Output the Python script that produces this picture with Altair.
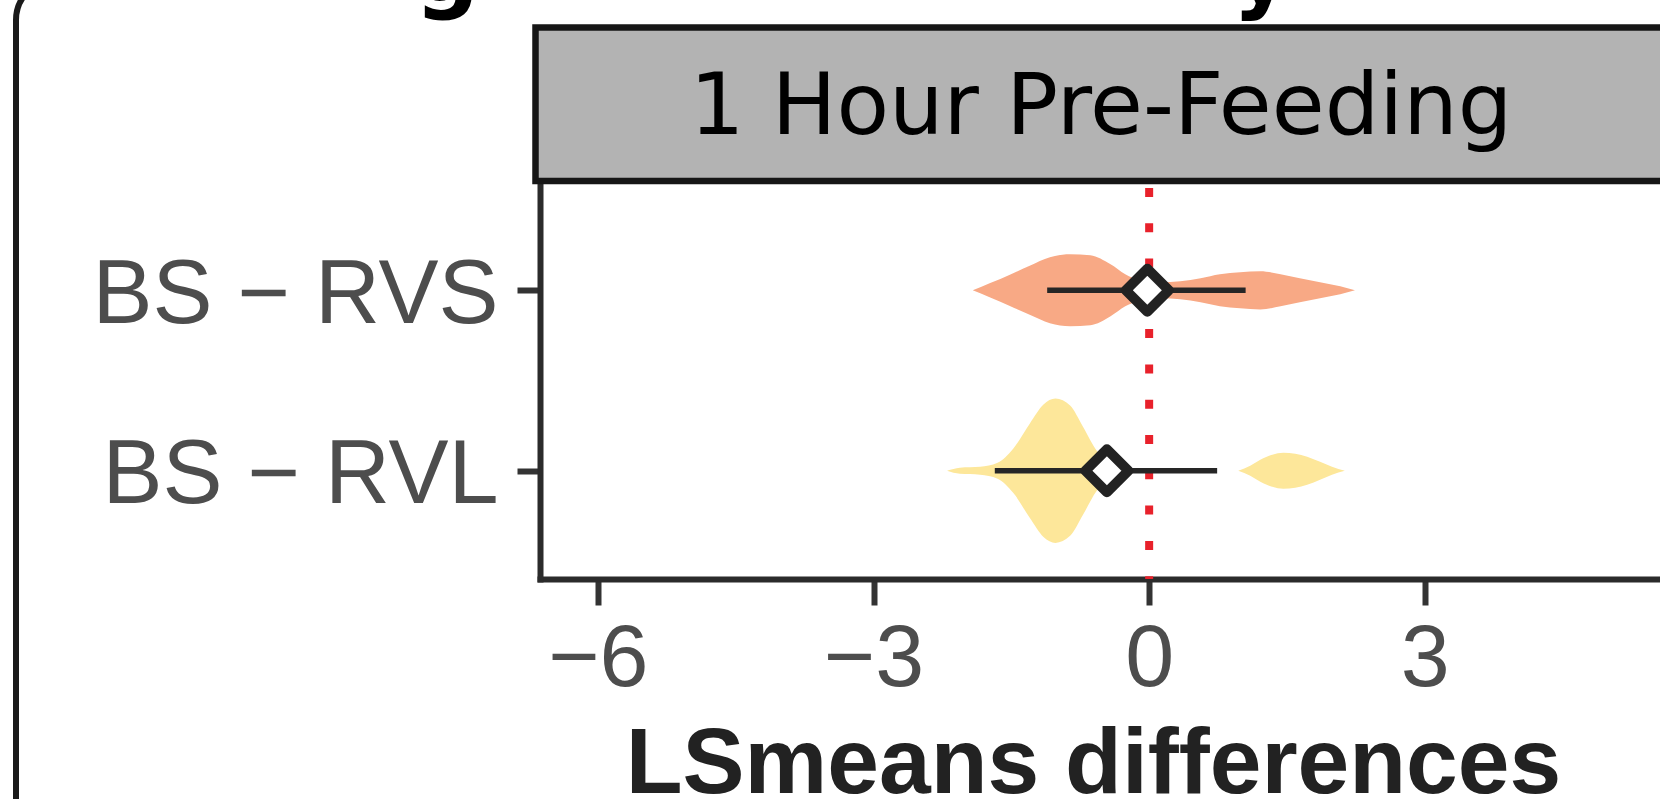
import altair as alt
import pandas as pd

# ---- data ----
comparisons = ["BS − RVS", "BS − RVL"]
comp_pos = [2, 1]
estimates = [-0.02, -0.46]
ci_low = [-1.11, -1.68]
ci_high = [1.05, 0.74]
violin_colors = ["#F8A985", "#FDE79A"]
x_ticks = [-6, -3, 0, 3]
strip_label = "1 Hour Pre-Feeding"
x_title = "LSmeans differences"

# violin outlines: value and half-width (in category units), per lobe
rvs_x = [-1.92, -1.73, -1.51, -1.30, -1.08, -0.86, -0.64, -0.42, -0.26, -0.10,
         0.12, 0.34, 0.56, 0.77, 0.99, 1.21, 1.43, 1.64, 1.86, 2.08, 2.24]
rvs_w = [0.0, 0.040, 0.088, 0.136, 0.183, 0.200, 0.194, 0.144, 0.089, 0.056,
         0.044, 0.050, 0.067, 0.089, 0.100, 0.106, 0.089, 0.067, 0.044, 0.022, 0.0]
rvl_a_x = [-2.20, -2.06, -1.84, -1.65, -1.48, -1.30, -1.15, -1.02, -0.86, -0.72,
           -0.57, -0.42, -0.34]
rvl_a_w = [0.0, 0.017, 0.022, 0.044, 0.122, 0.261, 0.367, 0.400, 0.361, 0.244,
           0.111, 0.044, 0.0]
rvl_b_x = [0.97, 1.10, 1.21, 1.34, 1.46, 1.59, 1.72, 1.86, 1.99, 2.13]
rvl_b_w = [0.0, 0.028, 0.061, 0.089, 0.100, 0.094, 0.078, 0.050, 0.022, 0.0]

rows = []
for comp, pos, part, xs_, ws_ in [
    (comparisons[0], comp_pos[0], "rvs", rvs_x, rvs_w),
    (comparisons[1], comp_pos[1], "rvl_a", rvl_a_x, rvl_a_w),
    (comparisons[1], comp_pos[1], "rvl_b", rvl_b_x, rvl_b_w),
]:
    for xv, wv in zip(xs_, ws_):
        rows.append({"comparison": comp, "part": part, "x": xv,
                     "lo": pos - wv, "hi": pos + wv})
violin_df = pd.DataFrame(rows)

est_df = pd.DataFrame({"comparison": comparisons, "pos": comp_pos,
                       "x": estimates, "lo": ci_low, "hi": ci_high})
zero_df = pd.DataFrame({"x": [0]})

# ---- scales / axes ----
xs = alt.Scale(domain=[-6.63, 5.56], nice=False, zero=False)
ys = alt.Scale(domain=[0.4, 2.6], nice=False, zero=False)

label_expr = " : ".join(
    [f"datum.value == {p} ? '{c}'" for c, p in zip(comparisons, comp_pos)] + ["''"]
)

xaxis = alt.Axis(values=x_ticks, grid=False, labelFont="Liberation Sans",
                 labelFontSize=88, labelColor="#4d4d4d", labelPadding=10,
                 labelOverlap=False, labelFlush=False, labelLimit=1000,
                 tickSize=26, tickWidth=6, tickColor="#333333",
                 domainWidth=6, domainColor="#2b2b2b", domainCap="square",
                 title=x_title, titleFont="Liberation Sans", titleFontWeight="bold",
                 titleFontSize=93, titleColor="#222222", titleBaseline="alphabetic",
                 titleY=213, titleX=553, titleAlign="center", titleLimit=2000)
yaxis = alt.Axis(values=comp_pos, labelExpr=label_expr, grid=False,
                 labelFont="Liberation Sans", labelFontSize=90, labelColor="#4d4d4d",
                 labelPadding=19, labelOffset=5, labelOverlap=False, labelFlush=False,
                 labelLimit=1000,
                 tickSize=23, tickWidth=6, tickColor="#333333",
                 domainWidth=6, domainColor="#2b2b2b", domainCap="square", title=None)

color = alt.Color("comparison:N", scale=alt.Scale(domain=comparisons, range=violin_colors),
                  legend=None)

violins = alt.Chart(violin_df).mark_area(orient="vertical", interpolate="monotone",
                                         opacity=1).encode(
    x=alt.X("x:Q", scale=xs, axis=xaxis),
    y=alt.Y("lo:Q", scale=ys, axis=yaxis),
    y2="hi:Q",
    color=color,
    detail="part:N",
)

zero_rule = alt.Chart(zero_df).mark_rule(color="#e8212b", strokeWidth=8,
                                         strokeDash=[9, 26.3], strokeDashOffset=29.4,
                                         strokeCap="butt").encode(
    x=alt.X("x:Q", scale=xs, axis=xaxis),
    y=alt.Y(datum=2.6, scale=ys, axis=yaxis),
    y2=alt.Y2(datum=0.4),
)

ci = alt.Chart(est_df).mark_rule(color="#262626", strokeWidth=5.5).encode(
    x=alt.X("lo:Q", scale=xs, axis=xaxis),
    x2="hi:Q",
    y=alt.Y("pos:Q", scale=ys, axis=yaxis),
)

points = alt.Chart(est_df).mark_point(shape="diamond", filled=True, fill="white",
                                      stroke="#222222", strokeWidth=10, size=1850,
                                      opacity=1, strokeJoin="round").encode(
    x=alt.X("x:Q", scale=xs, axis=xaxis),
    y=alt.Y("pos:Q", scale=ys, axis=yaxis),
)

# ---- decorations: outer frame, facet strip, clipped title ----
deco = pd.DataFrame({"k": [0]})
frame = alt.Chart(deco).mark_rect(fillOpacity=0, stroke="#1a1a1a", strokeWidth=6,
                                  cornerRadius=40).encode(
    x=alt.value(-524), x2=alt.value(1200), y=alt.value(-202), y2=alt.value(700))
strip = alt.Chart(deco).mark_rect(fill="#b3b3b3", stroke="#161616", strokeWidth=6.5).encode(
    x=alt.value(-4.5), x2=alt.value(1200), y=alt.value(-154.5), y2=alt.value(-1))
strip_text = alt.Chart(deco).mark_text(text=strip_label, font="DejaVu Sans", fontSize=86,
                                       color="#000000", align="center",
                                       baseline="alphabetic").encode(
    x=alt.value(561), y=alt.value(-48))
title_g = alt.Chart(deco).mark_text(text="g", font="DejaVu Sans", fontWeight="bold",
                                    fontSize=90, color="#000000", align="center",
                                    baseline="alphabetic").encode(
    x=alt.value(-93), y=alt.value(-181))
title_y = alt.Chart(deco).mark_text(text="y", font="DejaVu Sans", fontWeight="bold",
                                    fontSize=90, color="#000000", align="center",
                                    baseline="alphabetic").encode(
    x=alt.value(722), y=alt.value(-181))

chart = alt.layer(
    violins, zero_rule, ci, points, frame, strip, strip_text, title_g, title_y
).properties(
    width=1120, height=397,
    autosize=alt.AutoSizeParams(type="none"),
    padding={"left": 540, "top": 182, "right": 0, "bottom": 220},
    background="white",
).configure_view(stroke=None)

chart.save("out.html", embed_options={"renderer": "svg", "actions": False})
